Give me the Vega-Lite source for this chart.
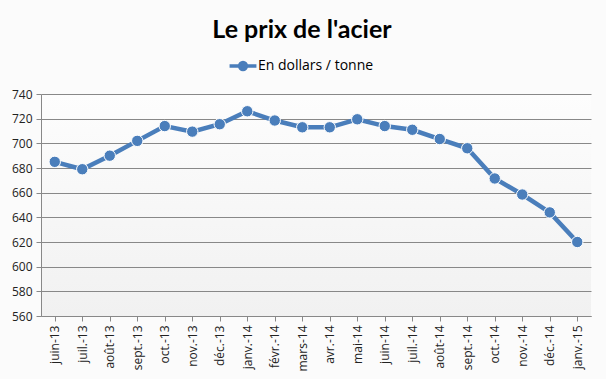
{
  "$schema": "https://vega.github.io/schema/vega-lite/v6.json",
  "width": 550,
  "height": 222,
  "autosize": "none",
  "padding": {"left": 41, "top": 94, "right": 15, "bottom": 63},
  "background": "#fbfbfb",
  "title": {
    "text": "Le prix de l'acier",
    "font": "Lato",
    "fontSize": 25,
    "fontWeight": "bold",
    "color": "#000000",
    "anchor": "middle",
    "dx": -14,
    "offset": 14
  },
  "data": {
    "values": [
      {"mois": "juin-13", "prix": 685, "serie": "En dollars / tonne"},
      {"mois": "juil.-13", "prix": 679, "serie": "En dollars / tonne"},
      {"mois": "août-13", "prix": 690, "serie": "En dollars / tonne"},
      {"mois": "sept.-13", "prix": 702, "serie": "En dollars / tonne"},
      {"mois": "oct.-13", "prix": 714, "serie": "En dollars / tonne"},
      {"mois": "nov.-13", "prix": 709.5, "serie": "En dollars / tonne"},
      {"mois": "déc.-13", "prix": 715.5, "serie": "En dollars / tonne"},
      {"mois": "janv.-14", "prix": 726, "serie": "En dollars / tonne"},
      {"mois": "févr.-14", "prix": 718.5, "serie": "En dollars / tonne"},
      {"mois": "mars-14", "prix": 713, "serie": "En dollars / tonne"},
      {"mois": "avr.-14", "prix": 713, "serie": "En dollars / tonne"},
      {"mois": "mai-14", "prix": 719.5, "serie": "En dollars / tonne"},
      {"mois": "juin-14", "prix": 714, "serie": "En dollars / tonne"},
      {"mois": "juil.-14", "prix": 711, "serie": "En dollars / tonne"},
      {"mois": "août-14", "prix": 703.5, "serie": "En dollars / tonne"},
      {"mois": "sept.-14", "prix": 696, "serie": "En dollars / tonne"},
      {"mois": "oct.-14", "prix": 671.5, "serie": "En dollars / tonne"},
      {"mois": "nov.-14", "prix": 658.5, "serie": "En dollars / tonne"},
      {"mois": "déc.-14", "prix": 644, "serie": "En dollars / tonne"},
      {"mois": "janv.-15", "prix": 620, "serie": "En dollars / tonne"}
    ]
  },
  "encoding": {
    "x": {
      "field": "mois",
      "type": "ordinal",
      "sort": null,
      "scale": {"paddingInner": 0, "paddingOuter": 0},
      "axis": {
        "title": null,
        "labelAngle": -90,
        "labelFont": "Open Sans",
        "labelFontSize": 12,
        "labelColor": "#222222",
        "labelPadding": 4,
        "bandPosition": 0,
        "tickColor": "#888888",
        "tickSize": 5,
        "domainColor": "#888888",
        "grid": false
      }
    },
    "y": {
      "field": "prix",
      "type": "quantitative",
      "scale": {"domain": [560, 740], "zero": false, "nice": false},
      "axis": {
        "title": null,
        "values": [560, 580, 600, 620, 640, 660, 680, 700, 720, 740],
        "labelFont": "Open Sans",
        "labelFontSize": 12,
        "labelColor": "#222222",
        "labelPadding": 4,
        "tickColor": "#888888",
        "tickSize": 5,
        "domainColor": "#888888",
        "grid": true,
        "gridColor": "#888888",
        "gridWidth": 1
      }
    },
    "color": {
      "field": "serie",
      "type": "nominal",
      "scale": {"range": ["#4a7ebb"]},
      "legend": {
        "title": null,
        "orient": "none",
        "legendX": 193,
        "legendY": -37,
        "labelFont": "Open Sans",
        "labelFontSize": 14,
        "labelColor": "#000000",
        "labelOffset": 6,
        "symbolType": "M-1.9,0 L-0.5,0 M0.5,0 L1.9,0 M0.48,0 A0.48,0.48 0 1,1 -0.48,0 A0.48,0.48 0 1,1 0.48,0 Z",
        "symbolSize": 200,
        "symbolStrokeWidth": 3.5,
        "symbolFillColor": "#4a7ebb",
        "symbolStrokeColor": "#4a7ebb"
      }
    }
  },
  "layer": [
    {
      "mark": {"type": "line", "strokeWidth": 4.5}
    },
    {
      "mark": {"type": "point", "filled": true, "size": 130, "opacity": 1, "stroke": "#ffffff", "strokeWidth": 1},
      "encoding": {"color": {"field": "serie", "type": "nominal", "legend": null}}
    }
  ],
  "config": {
    "view": {
      "stroke": null,
      "fill": {
        "gradient": "linear",
        "x1": 0, "y1": 0, "x2": 0, "y2": 1,
        "stops": [{"offset": 0, "color": "#fdfdfd"}, {"offset": 1, "color": "#f1f1f1"}]
      }
    }
  }
}
